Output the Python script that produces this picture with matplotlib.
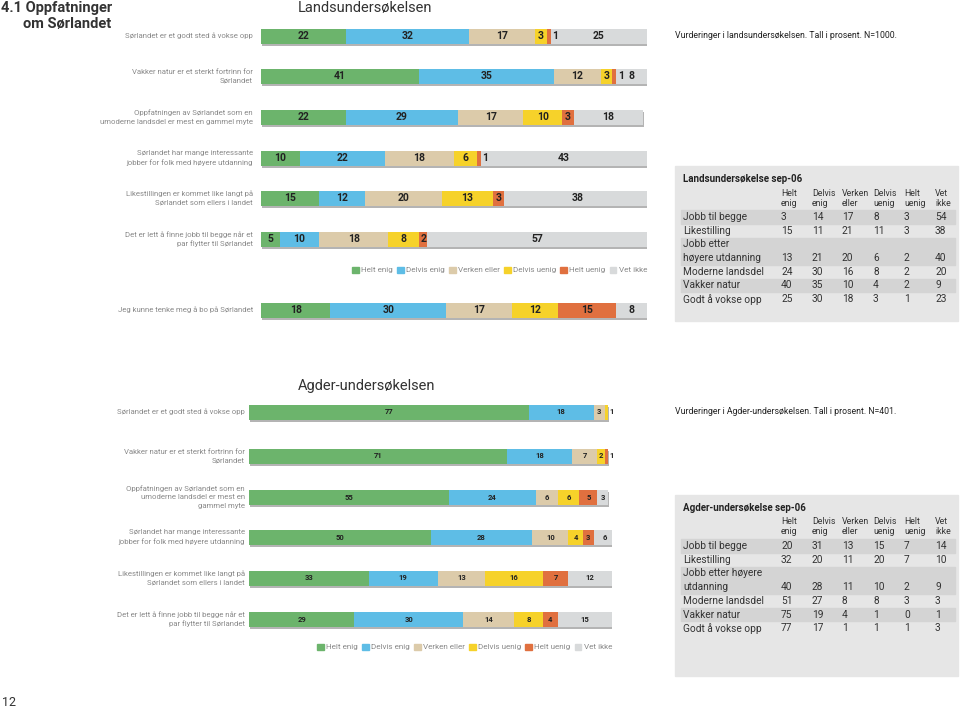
import numpy as np
import matplotlib.pyplot as plt
from matplotlib.patches import Rectangle

plt.rcParams['font.family'] = ['Roboto', 'DejaVu Sans']

answers = ["Helt enig", "Delvis enig", "Verken eller", "Delvis uenig", "Helt uenig", "Vet ikke"]
colors = ['#6cb46c', '#5ebde6', '#dccbaa', '#f6d22a', '#e0703f', '#d8dadb']

land_statements = [
    "Sørlandet er et godt sted å vokse opp",
    "Vakker natur er et sterkt fortrinn for\nSørlandet",
    "Oppfatningen av Sørlandet som en\numoderne landsdel er mest en gammel myte",
    "Sørlandet har mange interessante\njobber for folk med høyere utdanning",
    "Likestillingen er kommet like langt på\nSørlandet som ellers i landet",
    "Det er lett å finne jobb til begge når et\npar flytter til Sørlandet",
    "Jeg kunne tenke meg å bo på Sørlandet",
]
land_values = [
    [22, 32, 17, 3, 1, 25],
    [41, 35, 12, 3, 1, 8],
    [22, 29, 17, 10, 3, 18],
    [10, 22, 18, 6, 1, 43],
    [15, 12, 20, 13, 3, 38],
    [5, 10, 18, 8, 2, 57],
    [18, 30, 17, 12, 15, 8],
]

agder_statements = [
    "Sørlandet er et godt sted å vokse opp",
    "Vakker natur er et sterkt fortrinn for\nSørlandet",
    "Oppfatningen av Sørlandet som en\numoderne landsdel er mest en\ngammel myte",
    "Sørlandet har mange interessante\njobber for folk med høyere utdanning",
    "Likestillingen er kommet like langt på\nSørlandet som ellers i landet",
    "Det er lett å finne jobb til begge når et\npar flytter til Sørlandet",
]
agder_values = [
    [77, 18, 3, 1, 0, 0],
    [71, 18, 7, 2, 1, 0],
    [55, 24, 6, 6, 5, 3],
    [50, 28, 10, 4, 3, 6],
    [33, 19, 13, 16, 7, 12],
    [29, 30, 14, 8, 4, 15],
]

table_cols = ["Helt\nenig", "Delvis\nenig", "Verken\neller", "Delvis\nuenig", "Helt\nuenig", "Vet\nikke"]
land_table_rows = ["Jobb til begge", "Likestilling", "Jobb etter\nhøyere utdanning",
                   "Moderne landsdel", "Vakker natur", "Godt å vokse opp"]
land_table_values = [
    [3, 14, 17, 8, 3, 54],
    [15, 11, 21, 11, 3, 38],
    [13, 21, 20, 6, 2, 40],
    [24, 30, 16, 8, 2, 20],
    [40, 35, 10, 4, 2, 9],
    [25, 30, 18, 3, 1, 23],
]
agder_table_rows = ["Jobb til begge", "Likestilling", "Jobb etter høyere\nutdanning",
                    "Moderne landsdel", "Vakker natur", "Godt å vokse opp"]
agder_table_values = [
    [20, 31, 13, 15, 7, 14],
    [32, 20, 11, 20, 7, 10],
    [40, 28, 11, 10, 2, 9],
    [51, 27, 8, 8, 3, 3],
    [75, 19, 4, 1, 0, 1],
    [77, 17, 1, 1, 1, 3],
]

W, H = 960, 708
fig = plt.figure(figsize=(9.6, 7.08), dpi=100)
fig.patch.set_facecolor('white')

# page overlay in pixel coordinates for texts and panels
page = fig.add_axes([0, 0, 1, 1])
page.set_xlim(0, W)
page.set_ylim(H, 0)
page.axis('off')


def bar_block(x0, x1, rows_y, values, statements, label_x, legend_y, num_size, bar_h):
    ax = fig.add_axes([x0 / W, 0, (x1 - x0) / W, 1])
    ax.set_xlim(0, 100)
    ax.set_ylim(H, 0)
    ax.axis('off')
    for y, vals, stmt in zip(rows_y, values, statements):
        total = sum(vals)
        # shadow under the bar
        ax.barh(y + 2, total, left=0.3, height=bar_h, color='#b4b4b4', zorder=1)
        left = 0
        for v, c in zip(vals, colors):
            if v == 0:
                continue
            ax.barh(y, v, left=left, height=bar_h, color=c, zorder=2)
            if v == 1:
                ax.text(left + v + 0.4, y, str(v), ha='left', va='center',
                        fontsize=num_size, fontweight='bold', color='#222222', zorder=3)
            else:
                ax.text(left + v / 2, y, str(v), ha='center', va='center',
                        fontsize=num_size, fontweight='bold', color='#222222', zorder=3)
            left += v
        page.text(label_x, y, stmt, ha='right', va='center', fontsize=5.6,
                  color='#8a8a8a', linespacing=1.45)
    handles = [Rectangle((0, 0), 1, 1, color=c) for c in colors]
    leg = ax.legend(handles, answers, loc='center right', bbox_to_anchor=(1.0, 1 - legend_y / H),
                    ncol=6, frameon=False, fontsize=5.9,
                    handlelength=0.8, handleheight=0.8,
                    handletextpad=0.3, columnspacing=0.5, borderaxespad=0, borderpad=0)
    for t in leg.get_texts():
        t.set_color('#8a8a8a')
    return ax


bar_block(261, 647, [36, 76, 117, 158, 198, 239, 310], land_values, land_statements,
          253, 270, 7.5, 15)
bar_block(249, 612, [412, 456, 497, 537, 578, 619], agder_values, agder_statements,
          245, 647, 5.5, 15)


def draw_table(y0, y1, title, rows, values):
    page.add_patch(Rectangle((675, y0), 283, y1 - y0, color='#e6e6e6', zorder=0))
    col_x = [781, 812, 842, 873, 904, 935]
    page.text(683, y0 + 13, title, ha='left', va='center', fontsize=7,
              fontweight='bold', color='#222222')
    for cx, head in zip(col_x, table_cols):
        a, b = head.split("\n")
        page.text(cx, y0 + 27, a, ha='left', va='center', fontsize=6.3, color='#333333')
        page.text(cx, y0 + 37, b, ha='left', va='center', fontsize=6.3, color='#333333')
    step = 13.7
    y = y0 + 51
    for i, (name, vals) in enumerate(zip(rows, values)):
        lines = name.split("\n")
        top = y
        for j, ln in enumerate(lines):
            page.text(683, y + j * step, ln, ha='left', va='center', fontsize=7.3, color='#333333')
        last = y + (len(lines) - 1) * step
        if i % 2 == 0:
            page.add_patch(Rectangle((681, top - 6.8), 274, last - top + 13.6,
                                     color='#d4d4d4', zorder=0.5))
        for cx, v in zip(col_x, vals):
            page.text(cx, last, str(v), ha='left', va='center', fontsize=7.3, color='#333333')
        y = last + step


draw_table(166, 321, "Landsundersøkelse sep-06", land_table_rows, land_table_values)
draw_table(495, 676, "Agder-undersøkelse sep-06", agder_table_rows, agder_table_values)

# headings and notes
page.text(1, 1, "4.1 Oppfatninger", ha='left', va='top', fontsize=10.5,
          fontweight='bold', color='#333333')
page.text(23, 17, "om Sørlandet", ha='left', va='top', fontsize=10.5,
          fontweight='bold', color='#333333')
page.text(298, 8, "Landsundersøkelsen", ha='left', va='center', fontsize=10.5, color='#333333')
page.text(298, 386, "Agder-undersøkelsen", ha='left', va='center', fontsize=10.5, color='#333333')
page.text(675, 36, "Vurderinger i landsundersøkelsen. Tall i prosent. N=1000.",
          ha='left', va='center', fontsize=6.3, color='#222222')
page.text(675, 412, "Vurderinger i Agder-undersøkelsen. Tall i prosent. N=401.",
          ha='left', va='center', fontsize=6.3, color='#222222')
page.text(2, 702, "12", ha='left', va='center', fontsize=9, color='#333333')

fig.savefig('out.png', dpi=100, facecolor='white')
